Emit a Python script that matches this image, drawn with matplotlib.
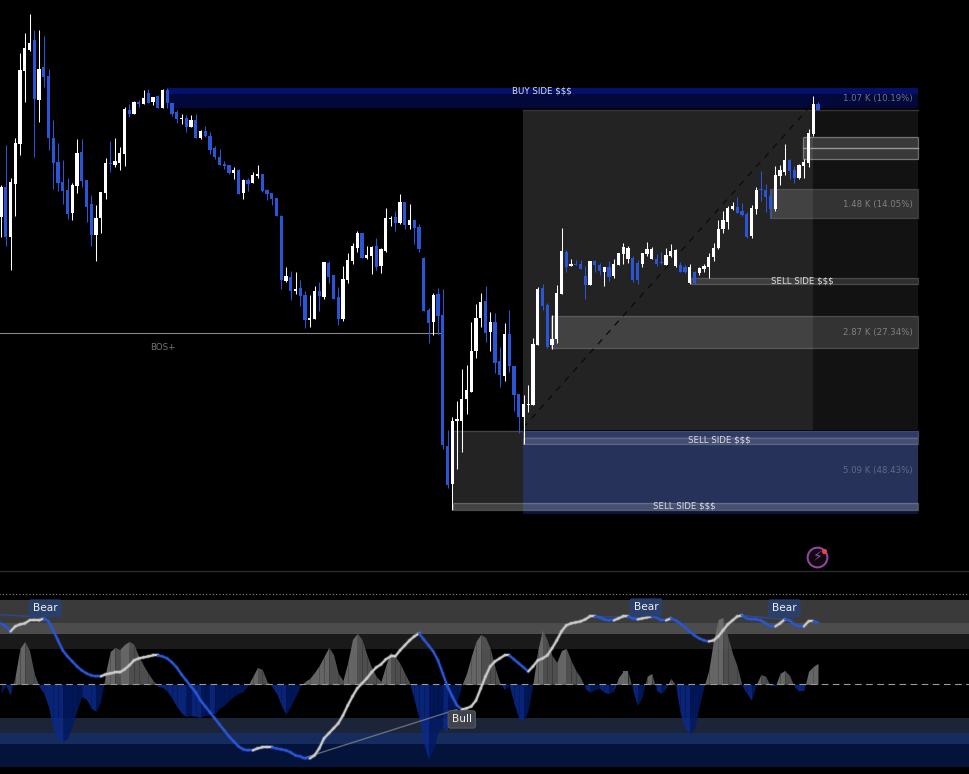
import numpy as np
import matplotlib
matplotlib.use("Agg")
import matplotlib.pyplot as plt
from matplotlib.patches import Rectangle

candle_side = ("wbwwwwwbwb" "bbbbbwwbbb" "wwwbwwwbwb" "wbwbwbbbwb" "wbwbbbbbbw"
               "bwbwwbbbbb" "wbwbbwwbwb" "bbwwwwbwwb" "wwwbwbwbbb" "bwbbbwwwww"
               "wwbwbbwbbb" "wwwwbbwwwb" "wbbbwbbwbw" "wwwbbwwwbb" "wwwbbwbwww"
               "wwwwwbbbww" "bbbwwwbbww" "wwb")
wick_high = [185, 145, 178, 138, 53, 33, 14, 30, 30, 36,
             69, 120, 143, 160, 178, 183, 139, 139, 180, 195,
             205, 192, 158, 141, 138, 147, 107, 104, 101, 100,
             90, 89, 97, 95, 89, 88, 103, 110, 114, 115,
             115, 114, 130, 126, 132, 146, 149, 161, 165, 167,
             169, 179, 178, 172, 165, 174, 189, 193, 198, 215,
             267, 271, 272, 280, 291, 295, 286, 282, 262, 261,
             275, 287, 266, 253, 243, 231, 233, 246, 246, 238,
             248, 208, 216, 211, 194, 202, 204, 220, 224, 257,
             308, 293, 288, 289, 430, 417, 401, 369, 365, 322,
             304, 293, 286, 312, 313, 347, 323, 310, 366, 394,
             395, 385, 338, 287, 284, 303, 315, 285, 228, 250,
             259, 260, 260, 266, 261, 260, 263, 267, 261, 259,
             253, 243, 246, 256, 260, 253, 242, 247, 254, 252,
             248, 244, 249, 262, 265, 264, 271, 267, 264, 253,
             243, 220, 211, 206, 202, 197, 203, 212, 205, 187,
             171, 184, 189, 166, 165, 144, 159, 166, 164, 159,
             129, 96, 102]
body_top = [187, 187, 182, 143, 70, 48, 43, 40, 69, 67,
            76, 138, 162, 182, 190, 185, 153, 152, 180, 204,
            218, 192, 163, 163, 161, 153, 109, 110, 102, 102,
            98, 93, 97, 96, 90, 90, 103, 112, 118, 118,
            120, 120, 131, 131, 136, 148, 157, 164, 165, 170,
            170, 180, 180, 175, 174, 174, 190, 193, 198, 216,
            276, 277, 289, 288, 295, 318, 291, 291, 262, 263,
            275, 297, 279, 260, 246, 233, 233, 255, 247, 246,
            249, 218, 218, 217, 202, 202, 220, 220, 227, 258,
            310, 295, 294, 315, 446, 421, 419, 399, 390, 351,
            318, 302, 301, 322, 322, 361, 334, 334, 366, 394,
            404, 404, 344, 289, 288, 305, 339, 293, 251, 252,
            264, 264, 264, 276, 261, 261, 265, 267, 267, 264,
            253, 247, 248, 258, 263, 253, 249, 249, 259, 262,
            255, 251, 250, 265, 267, 267, 272, 268, 266, 257,
            248, 229, 220, 208, 206, 207, 211, 214, 208, 190,
            189, 190, 196, 175, 170, 160, 160, 170, 165, 162,
            133, 104, 104]
body_bottom = [217, 237, 237, 184, 144, 71, 50, 99, 100, 77,
               138, 163, 183, 191, 214, 213, 186, 181, 207, 235,
               235, 218, 193, 164, 165, 163, 154, 114, 114, 104,
               104, 103, 102, 108, 108, 103, 114, 119, 119, 127,
               127, 138, 138, 136, 150, 157, 165, 166, 173, 173,
               194, 193, 184, 183, 176, 191, 194, 199, 216, 280,
               281, 291, 291, 296, 320, 320, 319, 296, 297, 277,
               299, 319, 319, 280, 261, 248, 258, 258, 256, 267,
               266, 251, 219, 223, 223, 225, 225, 228, 249, 311,
               323, 322, 316, 445, 485, 484, 421, 421, 399, 392,
               351, 318, 333, 332, 363, 375, 376, 366, 395, 417,
               417, 405, 405, 345, 306, 347, 345, 339, 294, 267,
               266, 265, 269, 285, 285, 265, 271, 272, 277, 276,
               265, 254, 259, 280, 280, 264, 254, 259, 264, 263,
               265, 256, 266, 272, 272, 283, 283, 273, 269, 267,
               257, 248, 229, 222, 209, 213, 215, 237, 236, 209,
               190, 197, 209, 209, 176, 172, 171, 178, 178, 166,
               163, 134, 110]
wick_low = [237, 246, 270, 216, 155, 102, 51, 157, 122, 87,
            150, 189, 191, 204, 219, 220, 193, 187, 222, 246,
            261, 233, 199, 172, 167, 170, 166, 117, 114, 107,
            104, 103, 105, 108, 108, 108, 116, 123, 124, 132,
            127, 138, 139, 137, 154, 159, 165, 169, 174, 179,
            194, 199, 191, 183, 178, 192, 200, 205, 216, 289,
            282, 300, 294, 306, 328, 327, 319, 311, 299, 283,
            299, 325, 321, 283, 264, 252, 258, 259, 274, 270,
            273, 252, 226, 231, 224, 229, 229, 244, 252, 311,
            343, 335, 334, 449, 488, 510, 469, 452, 414, 392,
            358, 327, 342, 351, 373, 387, 381, 372, 411, 433,
            444, 412, 405, 345, 310, 348, 349, 343, 294, 272,
            266, 265, 269, 299, 285, 272, 275, 286, 281, 278,
            265, 264, 263, 282, 284, 267, 256, 259, 266, 264,
            265, 257, 267, 272, 273, 284, 284, 275, 272, 278,
            261, 249, 233, 229, 210, 213, 216, 238, 238, 214,
            201, 212, 218, 211, 185, 175, 179, 183, 179, 178,
            167, 136, 110]

# lower panel, one value per bar
histogram = [-9, -1, -11, 9, 36, 43, 34, 11, -2, -9,
             -22, -45, -55, -57, -54, -42, -26, -12, -15, -24,
             -27, -17, 11, 33, 37, 35, 40, 43, 40, 28,
             19, 11, 4, -2, -3, -7, -14, -22, -29, -32,
             -31, -32, -33, -31, -30, -30, -24, -21, -16, -12,
             -9, -7, -1, 8, 17, 15, 3, -2, -9, -21,
             -30, -22, -12, -2, 3, 6, 12, 19, 28, 37,
             30, 11, 4, 22, 45, 51, 45, 30, 17, 8,
             3, 19, 32, 28, 21, 11, 2, -16, -34, -59,
             -75, -66, -48, -43, -47, -34, -17, -1, 11, 28,
             43, 50, 47, 36, 17, 2, -5, -1, -19, -34,
             -36, -26, 1, 34, 55, 44, 29, 22, 34, 36,
             24, 14, 7, -4, -8, -5, -4, -8, -9, -7,
             7, 13, 13, -6, -21, -12, 8, 11, -6, -9,
             -4, 6, 0, -29, -44, -49, -44, -22, -2, 14,
             44, 65, 67, 48, 31, 18, -1, -9, -16, 0,
             10, 8, -2, -2, 11, 14, 9, -2, -7, -7,
             13, 18, 21]
signal = [61, 58, 53, 58, 60, 61, 64, 64, 64, 66,
          63, 54, 44, 34, 28, 23, 18, 14, 11, 9,
          8, 8, 10, 11, 12, 12, 15, 19, 24, 26,
          27, 28, 29, 29, 28, 26, 22, 17, 10, 4,
          -2, -8, -16, -22, -28, -34, -40, -46, -52, -57,
          -62, -65, -66, -66, -64, -63, -63, -63, -64, -65,
          -66, -68, -71, -72, -74, -74, -71, -64, -54, -49,
          -44, -39, -31, -21, -12, -4, 1, 6, 12, 17,
          20, 25, 28, 28, 34, 39, 44, 48, 51, 45,
          39, 33, 24, 11, -2, -12, -21, -25, -24, -22,
          -16, -4, 8, 18, 23, 26, 29, 29, 25, 21,
          17, 13, 18, 24, 26, 29, 36, 44, 53, 59,
          61, 62, 63, 65, 68, 68, 67, 65, 64, 64,
          66, 68, 68, 66, 65, 66, 67, 68, 67, 64,
          64, 66, 64, 61, 57, 53, 49, 46, 44, 43,
          44, 48, 54, 60, 64, 68, 69, 66, 65, 65,
          64, 61, 58, 58, 61, 65, 64, 60, 58, 58,
          63, 63, 62]

BLUE = "#2a56d6"
LINE_WHITE = "#c8c8c8"
RIGHT_EDGE = 193.05

fig = plt.figure(figsize=(9.69, 7.74), dpi=100, facecolor="black")
ax = fig.add_axes([0, 0, 1, 1])
ax.set_xlim(-1 / 4.75, 968 / 4.75)
ax.set_ylim(774, 0)
ax.axis("off")


def zone(x0, x1, top, bottom, fill, edge="none", z=1):
    ax.add_patch(Rectangle((x0, top), x1 - x0, bottom - top, facecolor=fill,
                           edgecolor=edge, linewidth=0.9, zorder=z))


def label(x, y, text, color="#e0e0e0", ha="center"):
    ax.text(x, y, text, color=color, ha=ha, va="center", fontsize=6.2, zorder=8)


# zones behind the candles
zone(34.9, RIGHT_EDGE, 94, 108, "#02083a")
zone(34.9, RIGHT_EDGE, 88, 94, "#03116a")
zone(109.9, 171, 110, 430, "#232323")
zone(171, RIGHT_EDGE, 110, 430, "#121212")
ax.plot([109.9, RIGHT_EDGE], [110, 110], color="#363636", lw=1, zorder=1)
zone(95.2, 109.9, 431, 510, "#232323")
ax.plot([95.2, 109.9], [431, 431], color="#444444", lw=1, zorder=1)
zone(109.9, RIGHT_EDGE, 431, 510, "#26325a")
zone(109.9, RIGHT_EDGE, 510, 514, "#0c1538")
zone(109.9, RIGHT_EDGE, 431, 437, "#2f3b64", "#3d4970")

zone(161.9, RIGHT_EDGE, 189, 218, (1, 1, 1, 0.14), (1, 1, 1, 0.16), 2)
zone(115.8, RIGHT_EDGE, 316, 348, (1, 1, 1, 0.14), (1, 1, 1, 0.2), 2)
zone(168.8, RIGHT_EDGE, 136.5, 158.5, (1, 1, 1, 0.17), (1, 1, 1, 0.36), 2)
ax.plot([168.8, RIGHT_EDGE], [147.5, 147.5], color="#989898", lw=1, zorder=2)
zone(145.3, RIGHT_EDGE, 277.5, 283.5, (1, 1, 1, 0.12), (1, 1, 1, 0.2), 2)
zone(109.9, RIGHT_EDGE, 437.5, 443.5, (1, 1, 1, 0.14), (1, 1, 1, 0.2), 2)
zone(95.2, RIGHT_EDGE, 502.5, 509.5, (1, 1, 1, 0.15), (1, 1, 1, 0.24), 2)

# diagonal and BOS level
ax.plot([109.9, 170.8], [428, 104], color="#0a0a0a", lw=0.9, dashes=(5, 5), zorder=3)
ax.plot([-1, 92.5], [332.5, 332.5], color="#85858a", lw=0.8, zorder=3)

# candles
xs = np.arange(len(candle_side))
colors = ["#ffffff" if side == "w" else BLUE for side in candle_side]
wicks = ax.vlines(xs, wick_high, wick_low, colors=colors, lw=0.75, zorder=5)
wicks.set_snap(True)
ax.bar(xs, np.array(body_bottom) - np.array(body_top), bottom=body_top, width=0.72,
       color=colors, linewidth=0, zorder=6)

label(113.9, 91, "BUY SIDE $$$")
label(192, 98, "1.07 K (10.19%)", "#6f7385", "right")
label(192, 204.5, "1.48 K (14.05%)", "#808080", "right")
label(168.6, 281, "SELL SIDE $$$")
label(192, 332.5, "2.87 K (27.34%)", "#808080", "right")
label(151.2, 440.5, "SELL SIDE $$$")
label(192, 470, "5.09 K (48.43%)", "#636a85", "right")
label(143.8, 506.5, "SELL SIDE $$$")
label(34.1, 347, "BOS+", "#74757d")

# separators and the small alert icon
ax.plot([-1, 204], [570.5, 570.5], color="#2b2b30", lw=0.9, zorder=1)
ax.plot([-1, 204], [593.5, 593.5], color="#8a8a8a", lw=0.8, dashes=(1, 2), zorder=1)
ax.plot([171.85], [557.3], "o", ms=14.2, mfc="#12060f", mec="#8d479c", mew=1.5, zorder=4)
ax.text(171.85, 557.5, "\u26a1", color="#9a4fab", fontsize=10, ha="center", va="center", zorder=5)
ax.plot([173.3], [550.7], "o", ms=3.8, color="#e8404c", mew=0, zorder=6)

# lower panel, value 0 sits on the dashed line
osc = fig.add_axes([0, 0, 1, 204 / 774])
osc.set_xlim(ax.get_xlim())
osc.set_ylim(-89.6, 114.4)
osc.axis("off")
osc.patch.set_alpha(0)

band_levels = [(84.4, 61.4, "#3a3a3a"), (61.4, 50.4, "#4c4c4c"), (50.4, 35.4, "#1a1a1a"),
               (-33.6, -48.6, "#1c2438"), (-48.6, -59.6, "#162c5e"), (-59.6, -82.6, "#03133a")]
for upper, lower, color in band_levels:
    osc.axhspan(lower, upper, color=color, lw=0, zorder=1)

hist = np.array(histogram, dtype=float)
for i in range(len(hist) - 1):
    seg_x = np.array([i, i + 1], dtype=float)
    seg_y = hist[i:i + 2]
    growing = abs(seg_y[1]) >= abs(seg_y[0])
    grey = "#6e6e6e" if growing else "#555555"
    navy = "#0b2a8c" if growing else "#021a66"
    if seg_y[0] * seg_y[1] < 0:
        cross = i + seg_y[0] / (seg_y[0] - seg_y[1])
        seg_x = np.array([i, cross, i + 1])
        seg_y = np.array([seg_y[0], 0, seg_y[1]])
    osc.fill_between(seg_x, seg_y, 0, where=seg_y >= 0, interpolate=True, color=grey, alpha=0.92, lw=0, zorder=2)
    osc.fill_between(seg_x, seg_y, 0, where=seg_y <= 0, interpolate=True, color=navy, alpha=0.85, lw=0, zorder=2)

osc.plot([-1, 204], [0, 0], color="#9a9a9a", lw=0.8, dashes=(6, 4), zorder=3)

# thin lines between swing points
osc.plot([63.5, 96], [-74, -25], color="#8a8a8a", lw=1, alpha=0.7, zorder=3)
osc.plot([-1, 9], [70, 67], color=BLUE, lw=1, alpha=0.5, zorder=3)
osc.plot([124, 134], [68, 67], color=BLUE, lw=1, alpha=0.5, zorder=3)
osc.plot([156, 165], [69, 65], color=BLUE, lw=1, alpha=0.5, zorder=3)

# signal line, white while rising and blue while falling
sig = np.array(signal, dtype=float)
state = BLUE
for i in range(len(sig) - 1):
    if sig[i + 1] > sig[i]:
        state = LINE_WHITE
    elif sig[i + 1] < sig[i]:
        state = BLUE
    osc.plot([i, i + 1], sig[i:i + 2], color=state, lw=2.8, alpha=0.25, solid_capstyle="round", zorder=4)
    osc.plot([i, i + 1], sig[i:i + 2], color=state, lw=1.5, solid_capstyle="round", zorder=5)

for x, y in [(9.3, 76), (135.8, 77), (164.9, 76)]:
    osc.text(x, y, "Bear", color="#f0f0f0", fontsize=7.6, ha="center", va="center", zorder=7,
             bbox=dict(boxstyle="round,pad=0.38,rounding_size=0.2", fc="#29406f", ec="none", alpha=0.92))
osc.text(97, -35, "Bull", color="#f0f0f0", fontsize=7.6, ha="center", va="center", zorder=7,
         bbox=dict(boxstyle="round,pad=0.35,rounding_size=0.2", fc="#42444d", ec="#5c5e68", lw=0.6))

fig.savefig("out.png", dpi=100, facecolor="black")
